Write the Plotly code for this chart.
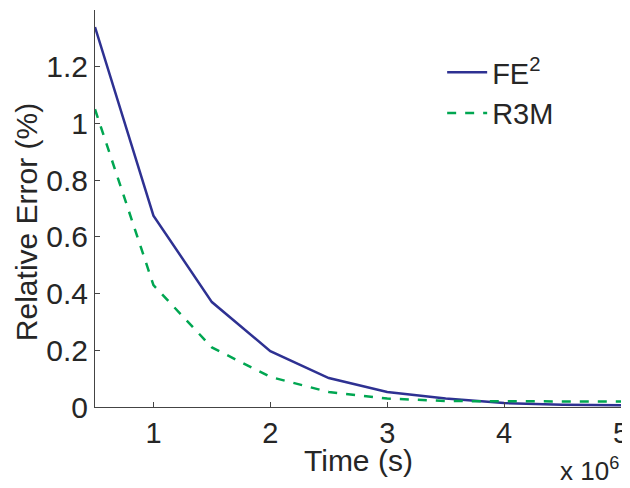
import plotly.graph_objects as go

time_s = [0.5e6, 1.0e6, 1.5e6, 2.0e6, 2.5e6, 3.0e6, 3.5e6, 4.0e6, 4.5e6, 5.0e6]
fe2_err = [1.34, 0.675, 0.37, 0.197, 0.102, 0.053, 0.030, 0.014, 0.008, 0.006]
r3m_err = [1.05, 0.43, 0.21, 0.106, 0.053, 0.030, 0.021, 0.020, 0.019, 0.019]

FONT = "Liberation Sans, Arial, Helvetica, sans-serif"
TXT = "#262626"
FS = 30

fig = go.Figure()
fig.add_trace(go.Scatter(x=time_s, y=fe2_err, mode="lines", name="FE<sup>2</sup>",
                         line=dict(color="#2E3192", width=2.5)))
fig.add_trace(go.Scatter(x=time_s, y=r3m_err, mode="lines", name="R3M",
                         line=dict(color="#00A651", width=2.5, dash="dash")))

# page body has an 8px margin, so figure is 622x480 and offset by 8px
fig.update_layout(
    width=622, height=480,
    margin=dict(l=87, r=9, t=2, b=81),
    paper_bgcolor="white", plot_bgcolor="white",
    font=dict(family=FONT, size=FS, color=TXT),
    showlegend=True,
    legend=dict(x=0.66, y=0.907, xanchor="left", yanchor="top",
                bgcolor="rgba(0,0,0,0)", font=dict(size=FS - 1, color=TXT),
                itemwidth=40, tracegroupgap=0),
    xaxis=dict(range=[0.5e6, 5e6], tickvals=[1e6, 2e6, 3e6, 4e6, 5e6],
               ticktext=["1", "2", "3", "4", "5"], automargin=False,
               ticklabeloverflow="allow",
               showgrid=False, zeroline=False, showline=True, linecolor="#444",
               linewidth=1, ticks="inside", ticklen=5, tickcolor="#444",
               tickfont=dict(size=29, color=TXT)),
    yaxis=dict(range=[0, 1.4], tickvals=[0, 0.2, 0.4, 0.6, 0.8, 1.0, 1.2],
               ticktext=["0", "0.2", "0.4", "0.6", "0.8", "1", "1.2"], automargin=False,
               ticklabeloverflow="allow",
               showgrid=False, zeroline=False, showline=True, linecolor="#444",
               linewidth=1, ticks="inside", ticklen=5, tickcolor="#444",
               tickfont=dict(size=FS, color=TXT)),
)
fig.add_annotation(text="Time (s)", xref="paper", yref="paper", x=0.5, y=-0.135,
                   xanchor="center", yanchor="middle", showarrow=False, borderpad=0,
                   font=dict(size=FS, color=TXT, family=FONT))
fig.add_annotation(text="Relative Error (%)", xref="paper", yref="paper", x=-0.129, y=0.466,
                   xanchor="center", yanchor="middle", textangle=-90, showarrow=False,
                   font=dict(size=FS, color=TXT, family=FONT))
fig.add_annotation(text="x 10<sup>6</sup>", xref="paper", yref="paper", x=1.0, y=-0.112,
                   xanchor="right", yanchor="top", showarrow=False,
                   font=dict(size=26, color=TXT, family=FONT))
fig.write_html("out.html")
